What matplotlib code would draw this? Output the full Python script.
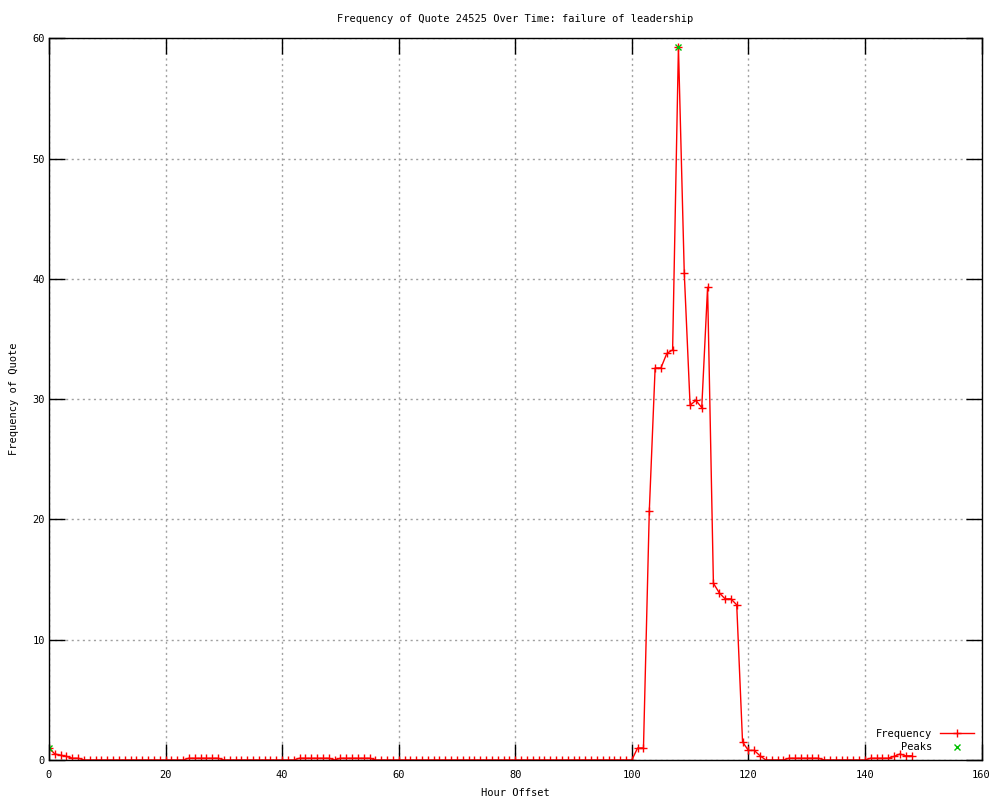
import matplotlib
matplotlib.use("Agg")
import matplotlib.pyplot as plt
import numpy as np

# hourly frequency values (hours 0..148)
hours = list(range(149))
freq = [0.0] * 149
start_vals = [1.0, 0.5, 0.4, 0.3, 0.15, 0.15]
for i, v in enumerate(start_vals):
    freq[i] = v
low_bumps = list(range(24, 30)) + list(range(43, 49)) + list(range(50, 56)) \
    + list(range(127, 133)) + list(range(141, 145))
for h in low_bumps:
    freq[h] = 0.15
spike = {101: 1.0, 102: 1.0, 103: 20.7, 104: 32.6, 105: 32.6, 106: 33.8,
         107: 34.1, 108: 59.3, 109: 40.5, 110: 29.5, 111: 29.9, 112: 29.3,
         113: 39.3, 114: 14.7, 115: 13.9, 116: 13.4, 117: 13.4, 118: 12.9,
         119: 1.5, 120: 0.8, 121: 0.8, 122: 0.35,
         145: 0.3, 146: 0.5, 147: 0.35, 148: 0.35}
for h, v in spike.items():
    freq[h] = v

peak_hours = [0, 108]
peak_vals = [1.0, 59.3]

title = "Frequency of Quote 24525 Over Time: failure of leadership"

font = "DejaVu Sans Mono"
fs = 7.5

fig = plt.figure(figsize=(10, 8), dpi=100)
ax = fig.add_axes([0.049, 0.05, 0.9325, 0.902])

ax.plot(hours, freq, color="red", lw=1.0, marker="+", ms=5.5, mew=1.0,
        label="Frequency")
ax.plot(peak_hours, peak_vals, ls="none", color="#00c000", marker="x",
        ms=5, mew=1.0, label="Peaks")

ax.set_xlim(0, 160)
ax.set_ylim(0, 60)
ax.set_xticks(np.arange(0, 161, 20))
ax.set_yticks(np.arange(0, 61, 10))
ax.grid(True, color="#a0a0a0", lw=1.0, linestyle=(0, (1.5, 2.5)))
ax.tick_params(direction="in", length=11.5, width=1.0, top=True, right=True,
               labelsize=fs, color="black")
ax.tick_params(axis="x", pad=7)
ax.tick_params(axis="y", pad=3)
for lab in ax.get_xticklabels() + ax.get_yticklabels():
    lab.set_family(font)
for s in ax.spines.values():
    s.set_linewidth(1.0)

ax.set_title(title, fontsize=fs, family=font, pad=12)
ax.set_xlabel("Hour Offset", fontsize=fs, family=font, labelpad=6)
ax.set_ylabel("Frequency of Quote", fontsize=fs, family=font)
ax.yaxis.set_label_coords(-0.032, 0.5)

leg = ax.legend(loc="lower right", frameon=False, markerfirst=False,
                prop={"family": font, "size": fs}, handlelength=3.2,
                labelspacing=0.35, borderaxespad=0.35)

fig.savefig("out.png", dpi=100)
